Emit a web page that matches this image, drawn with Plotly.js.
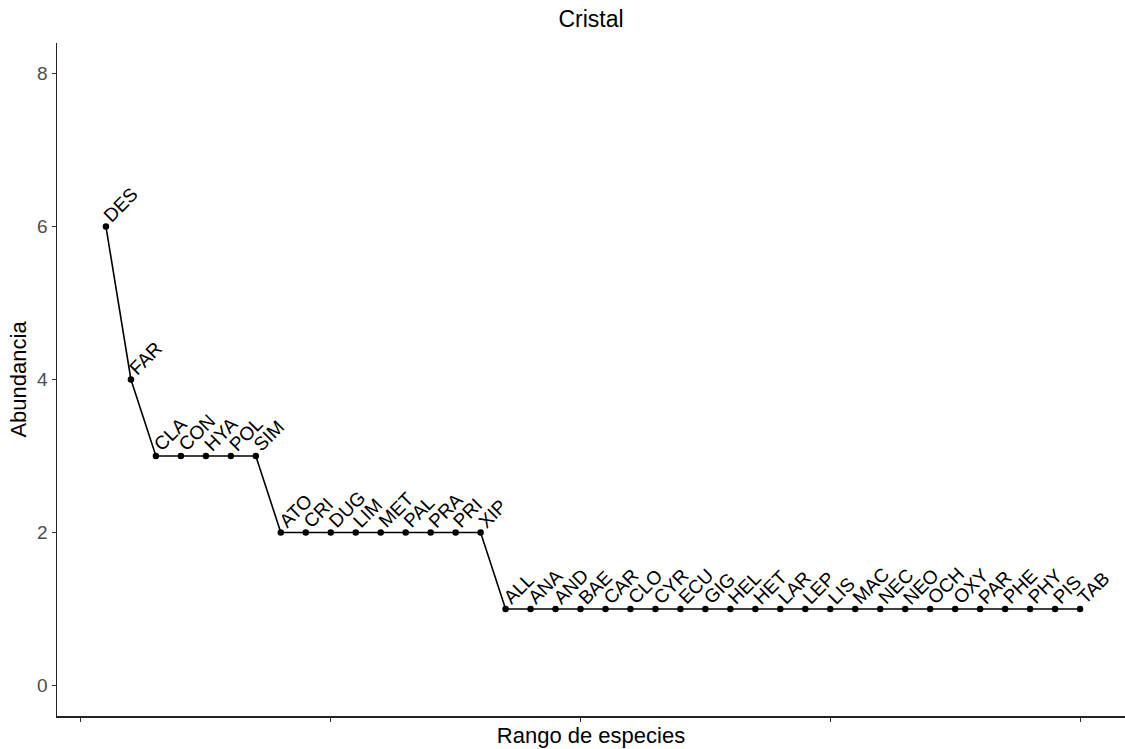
<!DOCTYPE html>
<html>
<head>
<meta charset="utf-8">
<script src="https://cdn.plot.ly/plotly-3.0.1.min.js"></script>
<style>html,body{margin:0;padding:0;background:#fff;}#chart{width:1125px;height:749px;}</style>
</head>
<body>
<div id="chart"></div>
<script>
const species = ["DES","FAR","CLA","CON","HYA","POL","SIM","ATO","CRI","DUG","LIM","MET","PAL","PRA","PRI","XIP","ALL","ANA","AND","BAE","CAR","CLO","CYR","ECU","GIG","HEL","HET","LAR","LEP","LIS","MAC","NEC","NEO","OCH","OXY","PAR","PHE","PHY","PIS","TAB"];
const abundance = [6,4,3,3,3,3,3,2,2,2,2,2,2,2,2,2,1,1,1,1,1,1,1,1,1,1,1,1,1,1,1,1,1,1,1,1,1,1,1,1];
const rank = species.map((s, i) => i + 1);
const yTicks = [0, 2, 4, 6, 8];
const xTicks = [0, 10, 20, 30, 40];

const FONT = 'Liberation Sans, Arial, sans-serif';

const trace = {
  x: rank, y: abundance, type: 'scatter', mode: 'lines+markers',
  line: {color: '#000', width: 1.6},
  marker: {color: '#000', size: 6.5},
  hoverinfo: 'skip', showlegend: false
};

const annotations = species.map((s, i) => ({
  x: rank[i], y: abundance[i], xref: 'x', yref: 'y',
  text: s, showarrow: false, textangle: -45,
  xanchor: 'left', yanchor: 'bottom',
  xshift: -9, yshift: -2,
  font: {family: FONT, size: 19, color: '#000'}
}));

const layout = {
  width: 1125, height: 749,
  paper_bgcolor: '#fff', plot_bgcolor: '#fff',
  margin: {l: 57, r: 0, t: 43, b: 32.5},
  title: {text: 'Cristal', xref: 'paper', x: 0.5, xanchor: 'center', yref: 'container', y: 1 - 19/749, yanchor: 'middle',
          font: {family: FONT, size: 23, color: '#000'}},
  xaxis: {
    range: [-0.96, 41.8], tickvals: xTicks, ticktext: xTicks.map(() => ''),
    showgrid: false, zeroline: false, showline: true, linecolor: '#222', linewidth: 1.5,
    ticks: 'outside', ticklen: 4, tickcolor: '#333', tickwidth: 1,
    title: {text: 'Rango de especies', standoff: 4, font: {family: FONT, size: 22, color: '#000'}}
  },
  yaxis: {
    range: [-0.4, 8.4], tickvals: yTicks, ticktext: yTicks.map(String),
    showgrid: false, zeroline: false, showline: true, linecolor: '#222', linewidth: 1.5,
    ticks: 'outside', ticklen: 4, tickcolor: '#333', tickwidth: 1,
    tickfont: {family: FONT, size: 19, color: '#4D4D4D'},
    title: {text: 'Abundancia', standoff: 4, font: {family: FONT, size: 22, color: '#000'}}
  },
  annotations: annotations
};

Plotly.newPlot('chart', [trace], layout, {displayModeBar: false, staticPlot: true});
</script>
</body>
</html>
